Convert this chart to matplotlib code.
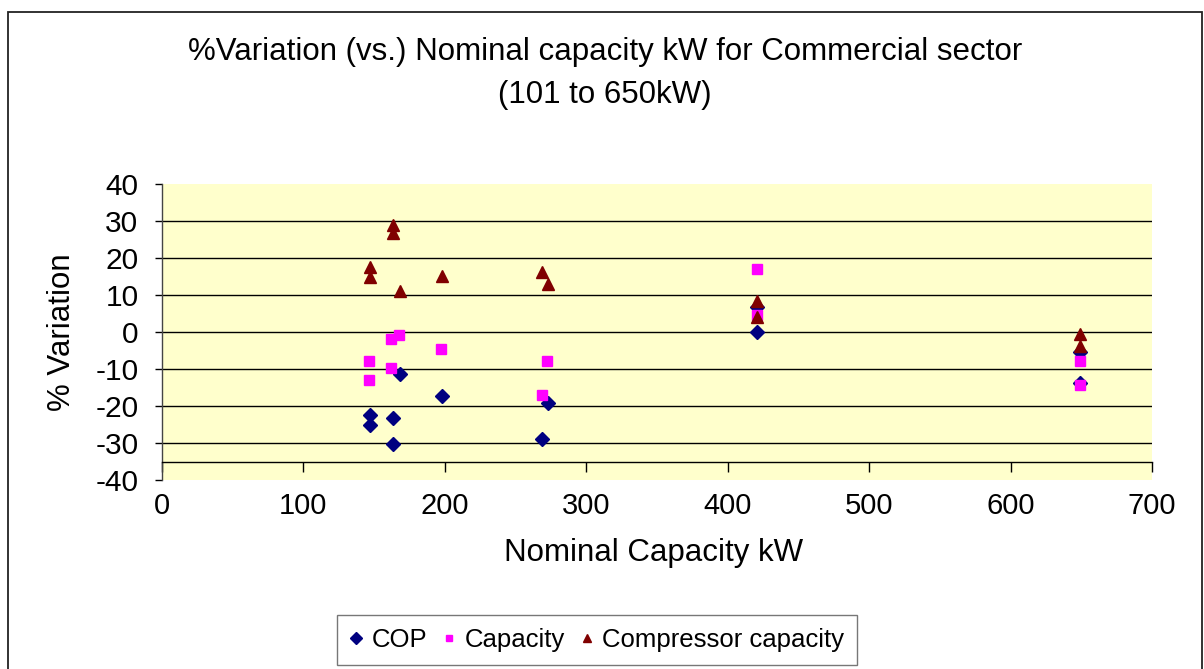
import matplotlib
matplotlib.use("Agg")
import matplotlib.pyplot as plt
from matplotlib.patches import Rectangle

plt.rcParams['font.family'] = ['Liberation Sans', 'DejaVu Sans']
plt.rcParams['axes.unicode_minus'] = False

# Nominal capacity (kW) and % variation per series
cop_x = [147, 147, 163, 163, 168, 198, 269, 273, 421, 421, 649, 649]
cop_y = [-22.4, -25.2, -23.2, -30.3, -11.3, -17.3, -29.0, -19.2, 6.7, 0.0, -5.5, -13.8]

cap_x = [146.5, 146.5, 162, 167.5, 162, 197, 268.5, 272, 421, 421, 649, 649]
cap_y = [-7.9, -13.1, -2.0, -0.8, -9.8, -4.7, -16.9, -7.9, 16.9, 4.5, -7.9, -14.2]

comp_x = [147, 147, 163, 163, 168, 198, 269, 273, 421, 421, 649, 649]
comp_y = [17.6, 15.0, 28.9, 26.8, 11.2, 15.2, 16.2, 13.1, 8.5, 4.0, -0.5, -3.8]

x_ticks = [0, 100, 200, 300, 400, 500, 600, 700]
y_ticks = [-40, -30, -20, -10, 0, 10, 20, 30, 40]

W, H = 1204, 669
fig = plt.figure(figsize=(W / 100, H / 100), dpi=100)
fig.patch.set_facecolor('white')

# outer chart border
fig.add_artist(Rectangle((8 / W, -0.05), (1202 - 8) / W, 1 - 12 / H + 0.05,
                         transform=fig.transFigure, fill=False,
                         edgecolor='#222222', linewidth=1.3, clip_on=False))

ax = fig.add_axes([162 / W, 1 - 480 / H, (1152 - 162) / W, (480 - 184) / H])
ax.set_facecolor('#FFFFCC')

ax.plot(cop_x, cop_y, linestyle='none', marker='D', ms=7.5, color='#000080',
        mec='#000080', label='COP', zorder=3)
ax.plot(cap_x, cap_y, linestyle='none', marker='s', ms=6.5, color='#FF00FF',
        mec='#FF00FF', label='Capacity', zorder=3)
ax.plot(comp_x, comp_y, linestyle='none', marker='^', ms=8.5, color='#800000',
        mec='#800000', label='Compressor capacity', zorder=3)

ax.set_xlim(0, 700)
ax.set_ylim(-40, 40)
ax.set_xticks(x_ticks)
ax.set_yticks(y_ticks)

ax.spines['top'].set_visible(False)
ax.spines['right'].set_visible(False)
ax.spines['bottom'].set_position(('data', -35))
ax.spines['bottom'].set_color('black')
ax.spines['left'].set_color('#444444')
ax.spines['bottom'].set_linewidth(1)
ax.spines['left'].set_linewidth(1)

ax.yaxis.grid(True, color='black', linewidth=1)
gl = ax.get_ygridlines()
gl[0].set_visible(False)
gl[-1].set_visible(False)
ax.set_axisbelow(True)

ax.tick_params(axis='x', direction='out', length=7, width=1, pad=15,
               labelsize=21)
ax.tick_params(axis='y', direction='out', length=5, width=1, pad=12,
               labelsize=21.5)

fig.text(605 / W, 1 - 52 / H, '%Variation (vs.) Nominal capacity kW for Commercial sector',
         ha='center', va='center', fontsize=22.5)
fig.text(605 / W, 1 - 95 / H, '(101 to 650kW)', ha='center', va='center',
         fontsize=22.5)
fig.text(62 / W, 1 - 332 / H, '% Variation', rotation=90, ha='center',
         va='center', fontsize=22.5)
fig.text(654 / W, 1 - 553 / H, 'Nominal Capacity kW', ha='center',
         va='center', fontsize=22.5)

leg = fig.legend(loc='center', bbox_to_anchor=(597 / W, 1 - 640 / H),
                 ncol=3, frameon=True, fancybox=False, fontsize=18.5,
                 handlelength=0.5, handletextpad=0.35, columnspacing=0.6,
                 borderpad=0.5, markerscale=0.75)
leg.get_frame().set_edgecolor('#555555')
leg.get_frame().set_linewidth(1)

fig.savefig('out.png', dpi=100, facecolor='white')
